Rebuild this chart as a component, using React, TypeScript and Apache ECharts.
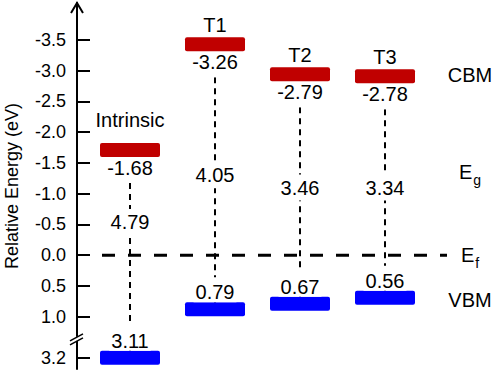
import React, { useEffect, useRef } from "react";
import * as echarts from "echarts";

const categories = ["Intrinsic", "T1", "T2", "T3"];
const cbmValues = [-1.68, -3.26, -2.79, -2.78];
const vbmValues = [3.11, 0.79, 0.67, 0.56];
const gapValues = [4.79, 4.05, 3.46, 3.34];
// energy levels (eV) at which the bars are drawn in the figure
const cbmLevels = [-1.71, -3.43, -2.94, -2.91];
const vbmLevels = [3.2, 0.88, 0.79, 0.69];
const gapLabelLevels = [-0.54, -1.3, -1.1, -1.1];
const tickValues = [-3.5, -3.0, -2.5, -2.0, -1.5, -1.0, -0.5, 0.0, 0.5, 1.0, 3.2];
const sideLabels = ["{m|CBM}", "{m|E}{s|g}", "{m|E}{s|f}", "{m|VBM}"];
const sideLevels = [-2.93, -1.35, 0, 0.73];
const fermiLevel = 0;

// broken axis: values above the break are shifted up
const BREAK_HIGH = 3.2;
const BREAK_AXIS = 1.667;
const toAxis = (e: number) => (e > 2 ? e - BREAK_HIGH + BREAK_AXIS : e);
const fromAxis = (u: number) => (u > 1.3 ? u - BREAK_AXIS + BREAK_HIGH : u);

const FONT = '"Liberation Sans", Arial, Helvetica, sans-serif';
const RED = "#C00000";
const BLUE = "#0000FF";
const BAR_SYMBOL =
  "path://M2,0 H58 Q60,0 60,2 V12 Q60,14 58,14 H2 Q0,14 0,12 V2 Q0,0 2,0 Z";

export default function App() {
  const ref = useRef<HTMLDivElement>(null);
  useEffect(() => {
    if (!ref.current) return;
    const chart = echarts.init(ref.current, null, { renderer: "svg" });
    const axisTicks = tickValues.map(toAxis);
    const clear = { color: "rgba(0,0,0,0)", opacity: 1 };
    const series: any[] = [];
    categories.forEach((c, i) => {
      series.push({
        type: "line",
        silent: true,
        symbol: "none",
        z: 1,
        data: [
          [i, toAxis(cbmLevels[i])],
          [i, toAxis(vbmLevels[i])],
        ],
        lineStyle: { color: "#000", width: 2, type: [6, 5] },
      });
    });
    series.push({
      type: "scatter",
      z: 3,
      symbol: BAR_SYMBOL,
      symbolSize: [60, 14],
      itemStyle: { color: RED, opacity: 1 },
      data: cbmLevels.map((v, i) => ({
        value: [i, toAxis(v)],
        name: categories[i],
        label: { distance: i === 0 ? 13 : 2 },
      })),
      label: {
        show: true,
        position: "top",
        formatter: "{b}",
        fontSize: 20,
        fontFamily: FONT,
        color: "#000",
      },
    });
    series.push({
      type: "scatter",
      z: 4,
      symbol: "rect",
      symbolSize: [60, 14],
      itemStyle: clear,
      data: cbmLevels.map((v, i) => [i, toAxis(v)]),
      label: {
        show: true,
        position: "bottom",
        distance: 1,
        formatter: (p: any) => cbmValues[p.dataIndex].toFixed(2),
        fontSize: 20,
        fontFamily: FONT,
        color: "#000",
        backgroundColor: "#fff",
        padding: [0, 2, 5, 2],
      },
    });
    series.push({
      type: "scatter",
      z: 3,
      symbol: BAR_SYMBOL,
      symbolSize: [60, 14],
      itemStyle: { color: BLUE, opacity: 1 },
      data: vbmLevels.map((v, i) => [i, toAxis(v)]),
      label: {
        show: true,
        position: "top",
        distance: 0,
        formatter: (p: any) => vbmValues[p.dataIndex].toFixed(2),
        fontSize: 20,
        fontFamily: FONT,
        color: "#000",
        backgroundColor: "#fff",
        padding: [5, 2, 0, 2],
      },
    });
    series.push({
      type: "scatter",
      z: 4,
      symbolSize: 1,
      itemStyle: clear,
      data: gapLabelLevels.map((v, i) => [i, toAxis(v)]),
      label: {
        show: true,
        position: "inside",
        formatter: (p: any) => gapValues[p.dataIndex].toFixed(2),
        fontSize: 20,
        fontFamily: FONT,
        color: "#000",
        backgroundColor: "#fff",
        padding: [3, 2],
      },
    });
    series.push({
      type: "scatter",
      z: 4,
      symbolSize: 1,
      itemStyle: clear,
      data: sideLevels.map((v) => [categories.length, toAxis(v)]),
      label: {
        show: true,
        position: "inside",
        formatter: (p: any) => sideLabels[p.dataIndex],
        color: "#000",
        rich: {
          m: { fontSize: 20, fontFamily: FONT, color: "#000" },
          s: { fontSize: 14, fontFamily: FONT, color: "#000", padding: [16, 0, 0, 1] },
        },
      },
    });

    chart.setOption({
      animation: false,
      backgroundColor: "#fff",
      grid: { left: 130, right: 30, top: 3, bottom: 4, outerBoundsMode: "none" },
      xAxis: {
        type: "category",
        data: [...categories, ""],
        boundaryGap: false,
        show: false,
      },
      yAxis: {
        type: "value",
        inverse: true,
        min: -4.1,
        max: 1.85,
        offset: 53,
        name: "Relative Energy (eV)",
        nameLocation: "middle",
        nameGap: 56,
        nameTextStyle: { fontSize: 18, fontFamily: FONT, color: "#000" },
        splitLine: { show: false },
        axisLine: { show: true, onZero: false, lineStyle: { color: "#000", width: 2 } },
        axisTick: {
          show: true,
          inside: true,
          length: 13,
          customValues: axisTicks,
          lineStyle: { color: "#000", width: 2 },
        },
        axisLabel: {
          show: true,
          customValues: axisTicks,
          margin: 11,
          fontSize: 18,
          fontFamily: FONT,
          color: "#000",
          formatter: (v: number) => fromAxis(v).toFixed(1),
        },
      },
      series,
    });

    const py = (u: number) => chart.convertToPixel({ yAxisIndex: 0 }, u) as number;
    const axisX = 77;
    const tip = py(-4.1);
    const yf = py(toAxis(fermiLevel));
    const yb = py(1.36);
    chart.setOption({
      graphic: [
        {
          type: "polyline",
          z: 10,
          shape: { points: [[axisX - 6, tip + 10], [axisX, tip], [axisX + 6, tip + 10]] },
          style: { stroke: "#000", lineWidth: 2, fill: null },
        },
        {
          type: "line",
          z: 5,
          shape: { x1: 102, y1: yf, x2: 447, y2: yf },
          style: { stroke: "#000", lineWidth: 3, lineDash: [13, 13] },
        },
        {
          type: "rect",
          z: 10,
          shape: { x: axisX - 3, y: yb - 2, width: 6, height: 4 },
          style: { fill: "#fff" },
        },
        {
          type: "line",
          z: 11,
          shape: { x1: axisX - 7, y1: yb + 2, x2: axisX + 6, y2: yb - 5 },
          style: { stroke: "#000", lineWidth: 1.5 },
        },
        {
          type: "line",
          z: 11,
          shape: { x1: axisX - 7, y1: yb + 6, x2: axisX + 6, y2: yb - 1 },
          style: { stroke: "#000", lineWidth: 1.5 },
        },
      ],
    });

    return () => chart.dispose();
  }, []);
  return (
    <div
      ref={ref}
      style={{ position: "fixed", left: 0, top: 0, width: 500, height: 373 }}
    />
  );
}
